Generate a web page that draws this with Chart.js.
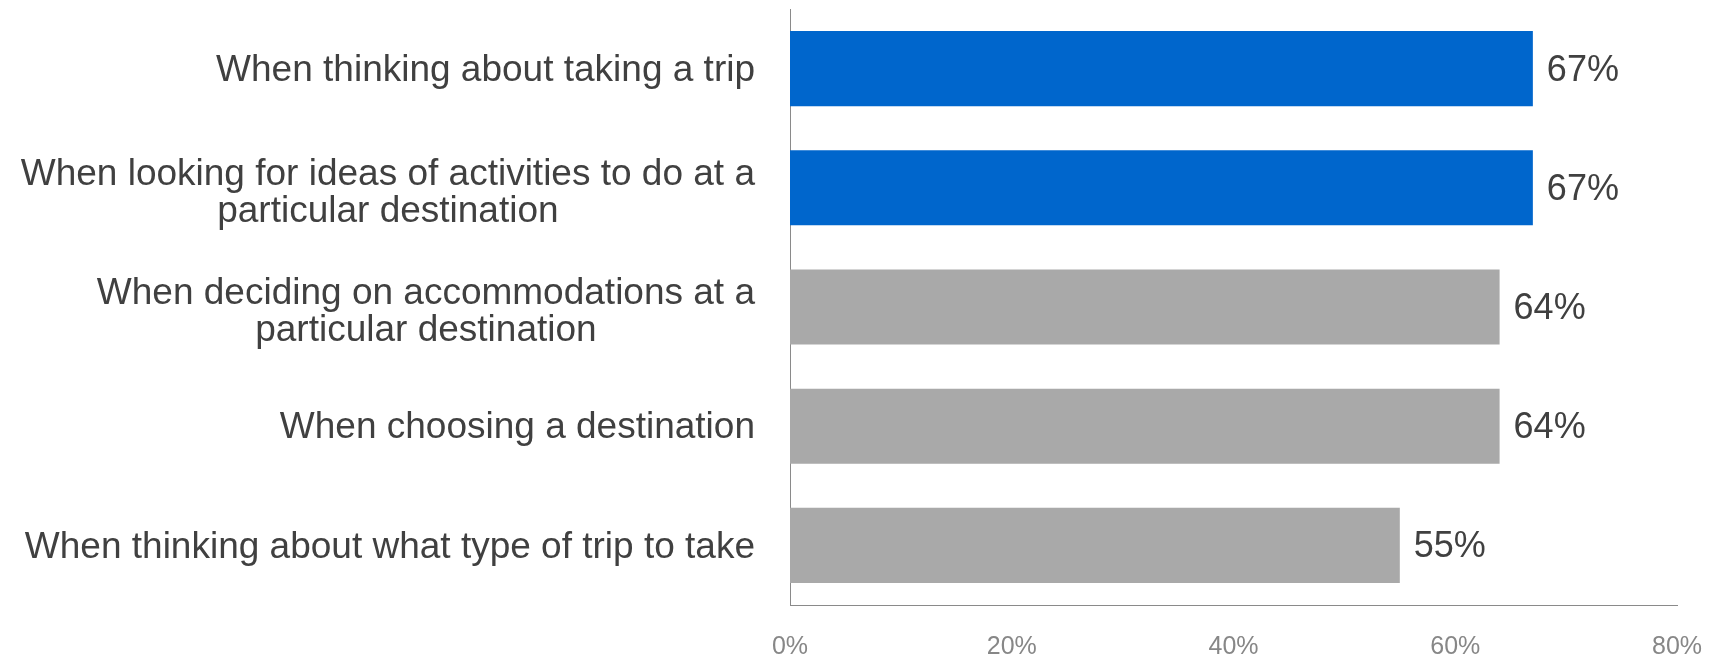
<!DOCTYPE html>
<html>
<head>
<meta charset="utf-8">
<script src="https://cdn.jsdelivr.net/npm/chart.js@4/dist/chart.umd.min.js"></script>
<style>
  html, body { margin: 0; padding: 0; background: #ffffff; }
  #wrap { width: 1719px; height: 658px; position: relative; }
</style>
</head>
<body>
<div id="wrap"><canvas id="c"></canvas></div>
<script>
const categories = [
  ["When thinking about taking a trip"],
  ["When looking for ideas of activities to do at a", "particular destination"],
  ["When deciding on accommodations at a", "particular destination"],
  ["When choosing a destination"],
  ["When thinking about what type of trip to take"]
];
const values = [67, 67, 64, 64, 55];
const xTicks = [0, 20, 40, 60, 80];

const FONT = '"Liberation Sans", Arial, sans-serif';

const labelPlugin = {
  id: 'customLabels',
  afterDatasetsDraw(chart) {
    const ctx = chart.ctx;
    const ys = chart.scales.y;
    const xs = chart.scales.x;
    ctx.save();
    ctx.font = '37px ' + FONT;
    ctx.fillStyle = '#404040';
    ctx.textBaseline = 'middle';
    ctx.textAlign = 'center';
    const lh = 37;
    categories.forEach((lines, i) => {
      const cy = ys.getPixelForValue(i);
      const w = Math.max(...lines.map(l => ctx.measureText(l).width));
      const cx = xs.left - 35 - w / 2;
      const off = lines.length > 1 ? 5 : 2;
      lines.forEach((l, j) => {
        ctx.fillText(l, cx, cy + (j - (lines.length - 1) / 2) * lh + off);
      });
    });
    ctx.font = '36px ' + FONT;
    ctx.textAlign = 'left';
    const meta = chart.getDatasetMeta(0);
    meta.data.forEach((bar, i) => {
      ctx.fillText(values[i] + '%', bar.x + 14, bar.y + 2);
    });
    ctx.restore();
  }
};

new Chart(document.getElementById('c'), {
  type: 'bar',
  data: {
    labels: categories.map(l => l.join(' ')),
    datasets: [{
      data: values,
      backgroundColor: ctx => ctx.dataIndex < 2 ? '#0066CC' : '#A9A9A9',
      borderWidth: 0,
      categoryPercentage: 1.0,
      barPercentage: 0.63
    }]
  },
  options: {
    indexAxis: 'y',
    responsive: true,
    maintainAspectRatio: false,
    animation: false,
    layout: { padding: { top: 9, right: 42, bottom: 0, left: 0 } },
    plugins: { legend: { display: false }, tooltip: { enabled: false } },
    scales: {
      x: {
        min: 0, max: 80,
        afterBuildTicks: s => { s.ticks = xTicks.map(v => ({ value: v })); },
        ticks: {
          callback: v => v + '%',
          font: { family: FONT, size: 25, lineHeight: 1.0 },
          color: '#878787',
          padding: 30,
          maxRotation: 0
        },
        grid: { display: false, drawTicks: false },
        border: { display: true, color: '#8a8a8a', width: 1 },
        afterFit: s => { s.height = 53; s.paddingLeft = 0; s.paddingRight = 0; }
      },
      y: {
        ticks: { display: false },
        grid: { display: false, drawTicks: false },
        border: { display: true, color: '#8a8a8a', width: 1 },
        afterFit: s => { s.width = 790; }
      }
    }
  },
  plugins: [labelPlugin]
});
</script>
</body>
</html>
